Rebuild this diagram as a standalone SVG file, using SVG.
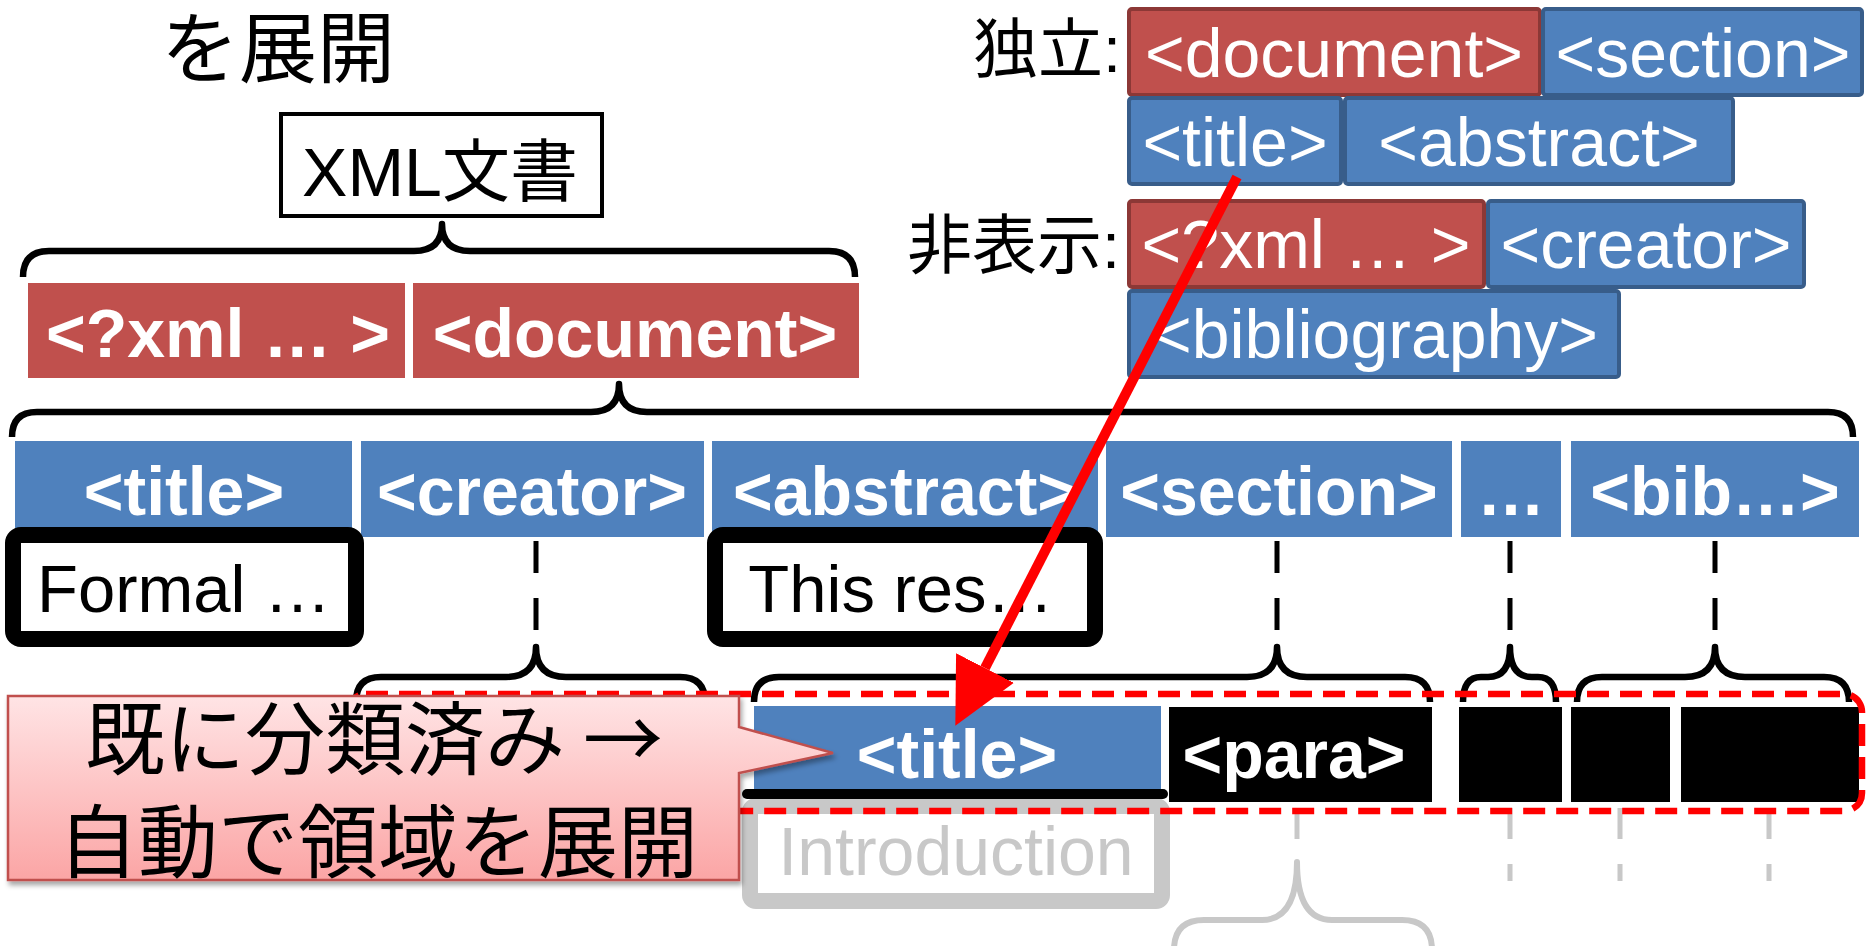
<svg xmlns="http://www.w3.org/2000/svg" width="1866" height="946" viewBox="0 0 1866 946">
<defs>
<style>
.lat{font-family:'Liberation Sans',Arial,sans-serif}
.cjk{font-family:'Noto Sans CJK JP',sans-serif}
.mix{font-family:'Liberation Sans','Noto Sans CJK JP',sans-serif}
.red{fill:#C0504D}
.blue{fill:#4F81BD}
.blk{fill:#000}
.wb{fill:#fff;font-weight:bold;font-size:68px;text-anchor:middle}
.wr{fill:#fff;font-size:68px;text-anchor:middle}
.brace{fill:none;stroke:#000;stroke-width:6.5;stroke-linejoin:round;stroke-linecap:butt}
.gbrace{fill:none;stroke:#C8C8C8;stroke-width:6;stroke-linejoin:round}
.dash{stroke:#000;stroke-width:5;stroke-dasharray:32 25}
.gdash{stroke:#C8C8C8;stroke-width:5;stroke-dasharray:31 25}
.lred{fill:#C0504D;stroke:#8C3836;stroke-width:4}
.lblue{fill:#4F81BD;stroke:#385D8A;stroke-width:4}
.tbox{fill:#fff;stroke:#000;stroke-width:16}
</style>
<linearGradient id="pink" x1="0" y1="0" x2="0" y2="1">
<stop offset="0" stop-color="#FFE4E5"/>
<stop offset="1" stop-color="#FBA5A5"/>
</linearGradient>
<filter id="sh" x="-5%" y="-10%" width="115%" height="130%">
<feDropShadow dx="2" dy="4" stdDeviation="2.5" flood-color="#000" flood-opacity="0.35"/>
</filter>
<marker id="ah" markerUnits="userSpaceOnUse" markerWidth="70" markerHeight="70" viewBox="0 -35 70 70" refX="0" refY="0" orient="auto">
<path d="M0,-32.5 L65,0 L0,32.5 Z" fill="#FF0000"/>
</marker>
</defs>

<g id="heading">
<text x="161" y="77" class="cjk" font-size="78" fill="#000">を展開</text>
</g>

<g id="xmldoc">
<rect x="281" y="114" width="321" height="102" fill="#fff" stroke="#000" stroke-width="4"/>
<text x="440" y="196" class="mix" font-size="68" text-anchor="middle" fill="#000">XML文書</text>
</g>

<g id="connectors">
<path class="brace" d="M23,277 Q23,251 49,251 L414,251 Q442,251 442,224 Q442,251 470,251 L829,251 Q855,251 855,277"/>
<path class="brace" d="M12,437 Q12,412 37,412 L591,412 Q619,412 619,384 Q619,412 647,412 L1828,412 Q1853,412 1853,437"/>
<line class="dash" x1="536" y1="541" x2="536" y2="630"/>
<line class="dash" x1="1277" y1="541" x2="1277" y2="630"/>
<line class="dash" x1="1510" y1="541" x2="1510" y2="630"/>
<line class="dash" x1="1715" y1="541" x2="1715" y2="630"/>
<path class="brace" d="M356,702 Q356,677 381,677 L506,677 Q536,677 536,647 Q536,677 566,677 L680,677 Q705,677 705,702"/>
<path class="brace" d="M754,702 Q754,677 779,677 L1247,677 Q1277,677 1277,647 Q1277,677 1307,677 L1405,677 Q1430,677 1430,702"/>
<path class="brace" d="M1463,702 Q1463,677 1481,677 L1488,677 Q1510,677 1510,647 Q1510,677 1532,677 L1538,677 Q1556,677 1556,702"/>
<path class="brace" d="M1577,702 Q1577,677 1602,677 L1685,677 Q1715,677 1715,647 Q1715,677 1745,677 L1824,677 Q1849,677 1849,702"/>
<line class="gdash" x1="1297" y1="808" x2="1297" y2="839"/>
<line class="gdash" x1="1510" y1="808" x2="1510" y2="881"/>
<line class="gdash" x1="1620" y1="808" x2="1620" y2="881"/>
<line class="gdash" x1="1769" y1="808" x2="1769" y2="881"/>
<path class="gbrace" d="M1174,950 Q1174,920 1204,920 L1262,920 Q1297,920 1297,862 Q1297,920 1332,920 L1402,920 Q1432,920 1432,950"/>
</g>

<g id="row-top">
<rect class="red" x="28" y="283" width="377" height="95"/>
<text class="lat wb" x="218" y="357">&lt;?xml … &gt;</text>
<rect class="red" x="413" y="283" width="446" height="95"/>
<text class="lat wb" x="635" y="357">&lt;document&gt;</text>
</g>

<g id="row-children">
<rect class="blue" x="15" y="441" width="337" height="96"/>
<text class="lat wb" x="184" y="515">&lt;title&gt;</text>
<rect class="blue" x="361" y="441" width="343" height="96"/>
<text class="lat wb" x="532" y="515">&lt;creator&gt;</text>
<rect class="blue" x="712" y="441" width="386" height="96"/>
<text class="lat wb" x="905" y="515">&lt;abstract&gt;</text>
<rect class="blue" x="1106" y="441" width="346" height="96"/>
<text class="lat wb" x="1279" y="515">&lt;section&gt;</text>
<rect class="blue" x="1461" y="441" width="100" height="96"/>
<text class="lat wb" x="1511" y="515">…</text>
<rect class="blue" x="1571" y="441" width="288" height="96"/>
<text class="lat wb" x="1715" y="515">&lt;bib…&gt;</text>
</g>

<g id="formal">
<rect class="tbox" x="13" y="535" width="343" height="104" rx="8"/>
<text class="lat" x="184" y="612" font-size="67" text-anchor="middle" fill="#000">Formal …</text>
</g>
<g id="thisres">
<rect class="tbox" x="715" y="535" width="380" height="104" rx="8"/>
<text class="lat" x="901" y="612" font-size="67" text-anchor="middle" fill="#000">This res…</text>
</g>

<g id="introduction">
<rect x="750" y="806" width="412" height="95" rx="6" fill="#fff" stroke="#C8C8C8" stroke-width="16"/>
<text class="lat" x="956" y="875" font-size="68" text-anchor="middle" fill="#C8C8C8">Introduction</text>
</g>

<g id="row-bottom">
<rect class="blue" x="754" y="706" width="407" height="85"/>
<text class="lat wb" x="957" y="778">&lt;title&gt;</text>
<rect x="742" y="789" width="426" height="10" rx="5" fill="#000"/>
<rect class="blk" x="1169" y="707" width="263" height="95"/>
<text class="lat wb" x="1294" y="778">&lt;para&gt;</text>
<rect class="blk" x="1459" y="707" width="103" height="95"/>
<rect class="blk" x="1571" y="707" width="99" height="95"/>
<rect class="blk" x="1681" y="707" width="178" height="95"/>
</g>

<g id="selection">
<rect x="348" y="694" width="1514" height="117" rx="18" fill="none" stroke="#FF0000" stroke-width="6.5" stroke-dasharray="22 11"/>
</g>

<g id="callout">
<path d="M8,696 H739 V727 L833,753 L739,773 V880 H8 Z" fill="url(#pink)" stroke="#C0504D" stroke-width="2.5" filter="url(#sh)"/>
<text class="cjk" x="374" y="768" font-size="80" text-anchor="middle" fill="#000">既に分類済み →</text>
<text class="cjk" x="378" y="871" font-size="80" text-anchor="middle" fill="#000">自動で領域を展開</text>
</g>

<g id="legend">
<text class="mix" x="1121" y="72" font-size="65" text-anchor="end" fill="#000">独立:</text>
<rect class="lred" x="1129" y="9" width="411" height="86" rx="3"/>
<text class="lat wr" x="1334" y="77">&lt;document&gt;</text>
<rect class="lblue" x="1543" y="9" width="319" height="86" rx="3"/>
<text class="lat wr" x="1703" y="77">&lt;section&gt;</text>
<rect class="lblue" x="1129" y="98" width="212" height="86" rx="3"/>
<text class="lat wr" x="1235" y="166">&lt;title&gt;</text>
<rect class="lblue" x="1345" y="98" width="388" height="86" rx="3"/>
<text class="lat wr" x="1539" y="166">&lt;abstract&gt;</text>
<text class="mix" x="1120" y="268" font-size="65" text-anchor="end" fill="#000">非表示:</text>
<rect class="lred" x="1129" y="201" width="355" height="86" rx="3"/>
<text class="lat wr" x="1306" y="268">&lt;?xml … &gt;</text>
<rect class="lblue" x="1488" y="201" width="316" height="86" rx="3"/>
<text class="lat wr" x="1646" y="268">&lt;creator&gt;</text>
<rect class="lblue" x="1129" y="291" width="490" height="86" rx="3"/>
<text class="lat wr" x="1375" y="358">&lt;bibliography&gt;</text>
</g>

<g id="arrow">
<line x1="1237" y1="177" x2="985" y2="668" stroke="#FF0000" stroke-width="10" marker-end="url(#ah)"/>
</g>
</svg>
